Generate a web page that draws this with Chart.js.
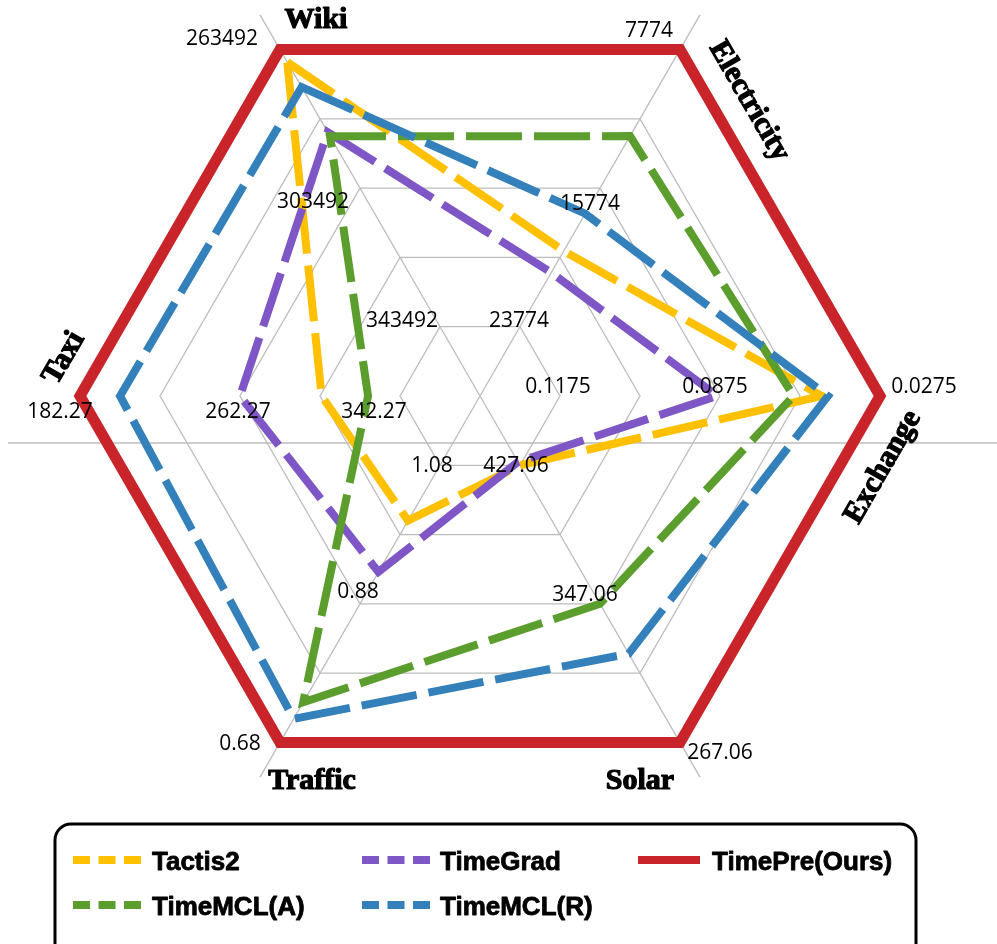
<!DOCTYPE html>
<html>
<head>
<meta charset="utf-8">
<script src="https://cdn.jsdelivr.net/npm/chart.js@4.4.1/dist/chart.umd.min.js"></script>
<style>
html, body { margin: 0; padding: 0; background: #fff; overflow: hidden; }
#wrap { position: absolute; left: 0; top: -10px; width: 997px; height: 954px; }
</style>
</head>
<body>
<div id="wrap"><canvas id="radarChart"></canvas></div>
<script>
// axes, clockwise from the upper left corner
let axes = ["Wiki", "Electricity", "Exchange", "Solar", "Traffic", "Taxi"];

// tick labels written on rings 1, 3 and 5 of each axis (lower is better, so outward)
let ticksRing1 = [343492, 23774, 0.1175, 427.06, 1.08, 342.27];
let ticksRing3 = [303492, 15774, 0.0875, 347.06, 0.88, 262.27];
let ticksRing5 = [263492, 7774, 0.0275, 267.06, 0.68, 182.27];

// values per model, same order as axes
let seriesNames = ["Tactis2", "TimeGrad", "TimePre(Ours)", "TimeMCL(A)", "TimeMCL(R)"];
let tactis2  = [267100, 19400, 0.0494, 427.06, 1.00, 303.1];
let timeGrad = [287300, 20650, 0.0880, 429.0, 0.926, 262.3];
let timePre  = [263492, 7774, 0.0275, 267.06, 0.68, 182.27];
let timeMclA = [288500, 12770, 0.0599, 347.1, 0.738, 326.3];
let timeMclR = [274300, 17250, 0.0470, 318.3, 0.714, 202.3];

let lineColors = ["#FFC000", "#7E56C6", "#C8242A", "#5B9E2E", "#3380BB"];
let gridColor = "#bdbdbd";

// put a raw value on the ring scale (0 = centre, 5 = outer hexagon)
function toRing(v, i) {
    let t1 = ticksRing1[i], t3 = ticksRing3[i], t5 = ticksRing5[i];
    if ((v - t3) / (t1 - t3) > 0) return 3 - 2 * (v - t3) / (t1 - t3);
    return 3 + 2 * (v - t3) / (t5 - t3);
}

let allSeries = [tactis2, timeGrad, timePre, timeMclA, timeMclR];
let datasets = allSeries.map((vals, k) => ({
    label: seriesNames[k],
    data: vals.map(toRing),
    borderColor: lineColors[k],
    borderWidth: k === 2 ? 11 : 8,
    borderDash: k === 2 ? [] : [56, 12],
    borderCapStyle: "butt",
    borderJoinStyle: "miter",
    fill: false,
    pointRadius: 0,
    order: 4 - k
}));

// where each tick label sits relative to its ring corner
let tickNudge = [
    [[-38, -7], [-47, 13], [-58, -12]],
    [[-1, -7], [-10, 15], [-31, -20]],
    [[-2, -10], [-5, -10], [44, -10]],
    [[-4, 0], [-15, -10], [40, 10]],
    [[-8, 0], [-2, -13], [-40, 1]],
    [[-26, 15], [-2, 15], [-20, 15]]
];
// axis titles: offset from centre and rotation
let titlePos = [[-164, -378, 0], [271, -296, 60], [401, 70, -60], [160, 383, 0], [-168, 383, 0], [-418, -39, -60]];

const decor = {
    id: "decor",
    beforeDatasetsDraw(chart) {
        const s = chart.scales.r, c = chart.ctx;
        c.save();
        c.strokeStyle = gridColor;
        c.lineWidth = 1.3;
        [0, 1, 3, 4].forEach(i => {
            const p = s.getPointPosition(i, s.drawingArea * 1.1);
            c.beginPath();
            c.moveTo(s.xCenter, s.yCenter);
            c.lineTo(p.x, p.y);
            c.stroke();
        });
        c.beginPath();
        c.moveTo(8, s.yCenter + 47);
        c.lineTo(chart.width, s.yCenter + 47);
        c.stroke();
        c.restore();
    },
    afterDatasetsDraw(chart) {
        const s = chart.scales.r, c = chart.ctx;
        c.save();
        // tick labels
        c.fillStyle = "#000";
        c.font = "21px 'Open Sans'";
        c.textAlign = "center";
        c.textBaseline = "alphabetic";
        let rings = [ticksRing1, ticksRing3, ticksRing5];
        axes.forEach((a, i) => {
            rings.forEach((arr, j) => {
                const p = s.getPointPosition(i, s.getDistanceFromCenterForValue(1 + 2 * j));
                const n = tickNudge[i][j];
                c.fillText(String(arr[i]), p.x + n[0], p.y + n[1] + 7);
            });
        });
        // axis titles (heavy bold)
        c.font = "bold 30px 'Liberation Serif'";
        c.strokeStyle = "#000";
        c.lineWidth = 1.2;
        c.lineJoin = "round";
        axes.forEach((a, i) => {
            const t = titlePos[i];
            c.save();
            c.translate(s.xCenter + t[0], s.yCenter + t[1]);
            c.rotate(t[2] * Math.PI / 180);
            c.fillText(a, 0, 10);
            c.strokeText(a, 0, 10);
            c.restore();
        });
        // legend box
        c.lineWidth = 3;
        c.beginPath();
        c.roundRect(55, 834, 861, 140, 16);
        c.stroke();
        let colX = [73, 362, 638], textX = [152, 440, 712], rowY = [870, 915];
        c.font = "bold 26px 'Liberation Sans'";
        c.textAlign = "left";
        chart.data.datasets.forEach((d, k) => {
            const x = colX[k % 3], y = rowY[Math.floor(k / 3)];
            c.strokeStyle = d.borderColor;
            c.lineWidth = 8;
            c.lineCap = "butt";
            c.setLineDash(d.borderDash.length ? [17, 8.5] : []);
            c.beginPath();
            c.moveTo(x, y);
            c.lineTo(x + (d.borderDash.length ? 68 : 62), y);
            c.stroke();
            c.setLineDash([]);
            c.fillStyle = "#000";
            c.strokeStyle = "#000";
            c.lineWidth = 0.8;
            c.fillText(d.label, textX[k % 3], y + 10);
            c.strokeText(d.label, textX[k % 3], y + 10);
        });
        c.restore();
    }
};

new Chart("radarChart", {
    type: "radar",
    data: {
        labels: axes,
        datasets: datasets
    },
    options: {
        responsive: true,
        maintainAspectRatio: false,
        animation: false,
        layout: {padding: {left: 80, right: 117, top: 6, bottom: 148}},
        plugins: {
            legend: {display: false},
            tooltip: {enabled: false}
        },
        elements: {line: {tension: 0}},
        scales: {
            r: {
                min: 0,
                max: 5,
                startAngle: -30,
                ticks: {display: false, stepSize: 1},
                grid: {color: gridColor, lineWidth: 1.3},
                angleLines: {display: false},
                pointLabels: {display: false}
            }
        }
    },
    plugins: [decor]
});
</script>
</body>
</html>
